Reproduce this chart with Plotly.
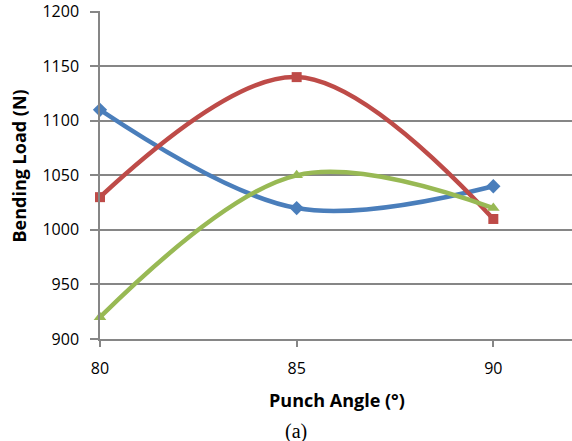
import plotly.graph_objects as go

angles = [80, 85, 90]
blue_vals = [1110, 1020, 1040]
red_vals = [1030, 1140, 1010]
green_vals = [920, 1050, 1020]
y_ticks = [900, 950, 1000, 1050, 1100, 1150, 1200]

fig = go.Figure()
series = [
    (blue_vals, "#4A7EBB", "diamond", 11),
    (red_vals, "#BE4B48", "square", 10),
    (green_vals, "#98B954", "triangle-up", 11),
]
for vals, col, sym, sz in series:
    fig.add_trace(go.Scatter(
        x=angles, y=vals, mode="lines+markers",
        line=dict(color=col, width=4.5, shape="spline", smoothing=1),
        marker=dict(symbol=sym, size=sz, color=col),
        showlegend=False, cliponaxis=False,
    ))

font_main = "Open Sans, sans-serif"
W, H = 572, 441
ml, mt, mb = 100, 11, 102
ph = H - mt - mb
pw = W - ml


def px_x(x):
    return (x - ml) / pw


def px_y(y):
    return (H - mb - y) / ph


fig.update_layout(
    width=W, height=H,
    margin=dict(l=ml, r=0, t=mt, b=mb, autoexpand=False),
    paper_bgcolor="white", plot_bgcolor="white",
    font=dict(family=font_main, size=16, color="black"),
    xaxis=dict(
        range=[80, 92], tickvals=angles, ticktext=[str(a) for a in angles],
        showgrid=False, zeroline=False, showline=True, linecolor="#868686", linewidth=1.5,
        ticks="outside", ticklen=6, tickcolor="#868686", tickwidth=1.5,
        ticklabelstandoff=8, automargin=False,
    ),
    yaxis=dict(
        range=[900, 1200.6], tickvals=y_ticks,
        showgrid=True, gridcolor="#868686", gridwidth=1.5,
        zeroline=False, showline=True, linecolor="#868686", linewidth=1.5,
        ticks="outside", ticklen=8, tickcolor="#868686", tickwidth=1.5,
        ticklabelstandoff=8, ticklabeloverflow="allow", automargin=False,
    ),
    annotations=[
        dict(text="<b>Punch Angle (°)</b>", xref="paper", yref="paper",
             x=px_x(337), y=px_y(400), showarrow=False,
             font=dict(family=font_main, size=18), xanchor="center", yanchor="middle"),
        dict(text="<b>Bending Load (N)</b>", xref="paper", yref="paper",
             x=px_x(18), y=px_y(166.5), showarrow=False, textangle=-90,
             font=dict(family=font_main, size=18), xanchor="center", yanchor="middle"),
        dict(text="(a)", xref="paper", yref="paper", x=px_x(295.5), y=px_y(431),
             showarrow=False, font=dict(family="Liberation Serif, serif", size=20),
             xanchor="center", yanchor="middle"),
    ],
)

fig.write_html("out.html", config={"displayModeBar": False},
               post_script="document.body.style.margin='0';")
